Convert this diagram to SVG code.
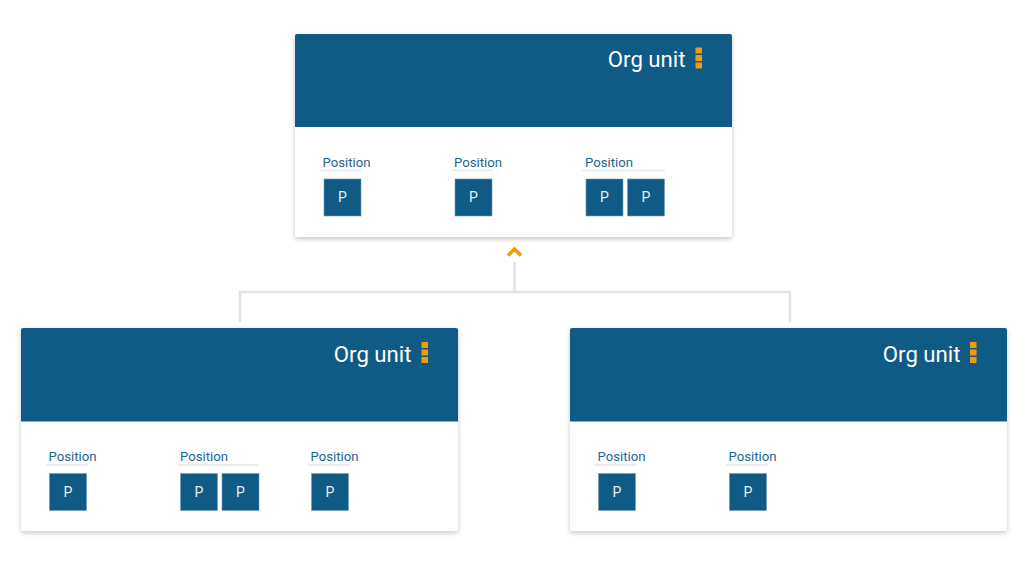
<svg xmlns="http://www.w3.org/2000/svg" width="1030" height="581" viewBox="0 0 1030 581">
<defs>
<style>
.card{fill:#ffffff}
.hdr{fill:#105b85}
.title{font-family:Roboto,"Liberation Sans",sans-serif;font-size:22.2px;fill:#ffffff}
.pos{font-family:Roboto,"Liberation Sans",sans-serif;font-size:13.2px;fill:#1d6691}
.ul{stroke:#e6e6e6;stroke-width:1.5}
.pb{fill:#105b85;stroke:#6f9ab4;stroke-width:0.6}
.pt{font-family:Roboto,"Liberation Sans",sans-serif;font-size:14px;fill:#e6eef4;text-anchor:middle}
.dot{fill:#f59a00}
.conn{fill:none;stroke:#e2e2e2;stroke-width:2.5}
</style>
<filter id="sh" x="-5%" y="-5%" width="110%" height="115%">
<feDropShadow dx="0" dy="2" stdDeviation="2.5" flood-color="#000" flood-opacity="0.22"/>
</filter>
</defs>
<rect width="1030" height="581" fill="#ffffff"/>
<g id="connectors">
<path class="conn" d="M514.5 262 V292 M240 322 V292 H790 V322"/>
<path d="M508 255.5 L514.5 249 L521 255.5" fill="none" stroke="#f59a00" stroke-width="3.6"/>
</g>
<g id="unit-top">
<rect class="card" x="295" y="34" width="437" height="203" rx="2" filter="url(#sh)"/>
<path class="hdr" d="M297 34 H730 A2 2 0 0 1 732 36 V127 H295 V36 A2 2 0 0 1 297 34 Z"/>
<text class="title" x="685.5" y="67" text-anchor="end">Org unit</text>
<rect class="dot" x="695.5" y="47.5" width="6.5" height="6"/>
<rect class="dot" x="695.5" y="55" width="6.5" height="6"/>
<rect class="dot" x="695.5" y="62.5" width="6.5" height="6"/>
<text class="pos" x="322.5" y="166.5">Position</text>
<line class="ul" x1="320" y1="170.5" x2="362" y2="170.5"/>
<rect class="pb" x="324" y="179" width="37" height="37"/><text class="pt" x="342.5" y="202">P</text>
<text class="pos" x="454" y="166.5">Position</text>
<line class="ul" x1="451.5" y1="170.5" x2="493" y2="170.5"/>
<rect class="pb" x="455" y="179" width="37" height="37"/><text class="pt" x="473.5" y="202">P</text>
<text class="pos" x="585" y="166.5">Position</text>
<line class="ul" x1="582.5" y1="170.5" x2="665" y2="170.5"/>
<rect class="pb" x="586" y="179" width="37" height="37"/><text class="pt" x="604.5" y="202">P</text>
<rect class="pb" x="627.5" y="179" width="37" height="37"/><text class="pt" x="646" y="202">P</text>
</g>
<g id="unit-left">
<rect class="card" x="21" y="328" width="437" height="203" rx="2" filter="url(#sh)"/>
<path class="hdr" d="M23 328 H456 A2 2 0 0 1 458 330 V421.5 H21 V330 A2 2 0 0 1 23 328 Z"/>
<text class="title" x="411.5" y="361.5" text-anchor="end">Org unit</text>
<rect class="dot" x="421.5" y="342" width="6.5" height="6"/>
<rect class="dot" x="421.5" y="349.5" width="6.5" height="6"/>
<rect class="dot" x="421.5" y="357" width="6.5" height="6"/>
<text class="pos" x="48.5" y="460.5">Position</text>
<line class="ul" x1="46" y1="465" x2="87.5" y2="465"/>
<rect class="pb" x="49.5" y="473.5" width="37" height="37"/><text class="pt" x="68" y="496.5">P</text>
<text class="pos" x="180" y="460.5">Position</text>
<line class="ul" x1="177" y1="465" x2="259" y2="465"/>
<rect class="pb" x="180.5" y="473.5" width="37" height="37"/><text class="pt" x="199" y="496.5">P</text>
<rect class="pb" x="222" y="473.5" width="37" height="37"/><text class="pt" x="240.5" y="496.5">P</text>
<text class="pos" x="310.5" y="460.5">Position</text>
<line class="ul" x1="308" y1="465" x2="349.5" y2="465"/>
<rect class="pb" x="311.5" y="473.5" width="37" height="37"/><text class="pt" x="330" y="496.5">P</text>
</g>
<g id="unit-right">
<rect class="card" x="570" y="328" width="437" height="203" rx="2" filter="url(#sh)"/>
<path class="hdr" d="M572 328 H1005 A2 2 0 0 1 1007 330 V421.5 H570 V330 A2 2 0 0 1 572 328 Z"/>
<text class="title" x="960.5" y="361.5" text-anchor="end">Org unit</text>
<rect class="dot" x="970" y="342" width="6.5" height="6"/>
<rect class="dot" x="970" y="349.5" width="6.5" height="6"/>
<rect class="dot" x="970" y="357" width="6.5" height="6"/>
<text class="pos" x="597.5" y="460.5">Position</text>
<line class="ul" x1="595" y1="465" x2="636.5" y2="465"/>
<rect class="pb" x="598.5" y="473.5" width="37" height="37"/><text class="pt" x="617" y="496.5">P</text>
<text class="pos" x="728.5" y="460.5">Position</text>
<line class="ul" x1="726" y1="465" x2="767.5" y2="465"/>
<rect class="pb" x="729.5" y="473.5" width="37" height="37"/><text class="pt" x="748" y="496.5">P</text>
</g>
</svg>
